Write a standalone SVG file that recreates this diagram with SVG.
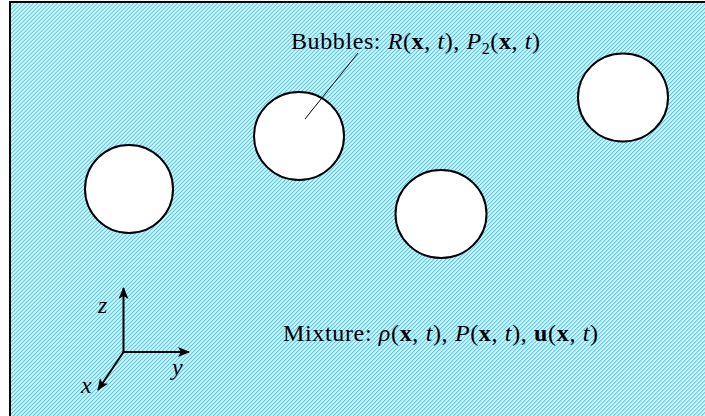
<svg xmlns="http://www.w3.org/2000/svg" width="705" height="416" viewBox="0 0 705 416">
<defs>
<pattern id="hatch" patternUnits="userSpaceOnUse" width="2.83" height="2.83" patternTransform="rotate(45)">
<rect width="2.83" height="2.83" fill="#e4f8fd"/>
<rect width="1.1" height="2.83" fill="#44cdf2"/>
</pattern>
<marker id="arr" viewBox="0 0 12 10" refX="11" refY="5" markerWidth="12" markerHeight="10" markerUnits="userSpaceOnUse" orient="auto">
<path d="M0,0 L12,5 L0,10 L3,5 Z" fill="#000"/>
</marker>
<style>
.bub{fill:#fff;stroke:#000;stroke-width:2}
.ax{stroke:#000;stroke-width:2;fill:none;marker-end:url(#arr)}
.t{font-family:"Liberation Serif","Times New Roman",serif;font-size:24px;fill:#000}
.i{font-style:italic}
.b{font-weight:bold}
</style>
</defs>
<rect x="10" y="2" width="700" height="420" fill="url(#hatch)" stroke="#000" stroke-width="2"/>
<g id="bubble1"><ellipse class="bub" cx="129" cy="189" rx="44" ry="44"/></g>
<g id="bubble2"><ellipse class="bub" cx="299" cy="136" rx="45" ry="44"/></g>
<g id="bubble3"><ellipse class="bub" cx="623" cy="97.5" rx="45" ry="44"/></g>
<g id="bubble4"><ellipse class="bub" cx="441" cy="214" rx="45.5" ry="44"/></g>
<g id="connectors">
<line x1="305" y1="119" x2="358" y2="53" stroke="#000" stroke-width="1"/>
<line class="ax" x1="123.5" y1="352" x2="123.5" y2="288"/>
<line class="ax" x1="123.5" y1="352" x2="189" y2="352"/>
<line class="ax" x1="123.5" y1="352" x2="98" y2="390"/>
</g>
<g id="labels">
<text class="t" x="291" y="49" textLength="249" lengthAdjust="spacing">Bubbles: <tspan class="i">R</tspan>(<tspan class="b">x</tspan>, <tspan class="i">t</tspan>), <tspan class="i">P</tspan><tspan font-size="16" dy="5">2</tspan><tspan dy="-5">(</tspan><tspan class="b">x</tspan>, <tspan class="i">t</tspan>)</text>
<text class="t" x="283" y="341" textLength="315" lengthAdjust="spacing">Mixture: <tspan class="i">ρ</tspan>(<tspan class="b">x</tspan>, <tspan class="i">t</tspan>), <tspan class="i">P</tspan>(<tspan class="b">x</tspan>, <tspan class="i">t</tspan>), <tspan class="b">u</tspan>(<tspan class="b">x</tspan>, <tspan class="i">t</tspan>)</text>
<text class="t i" x="98" y="313">z</text>
<text class="t i" x="172" y="375">y</text>
<text class="t i" x="81" y="393">x</text>
</g>
</svg>
